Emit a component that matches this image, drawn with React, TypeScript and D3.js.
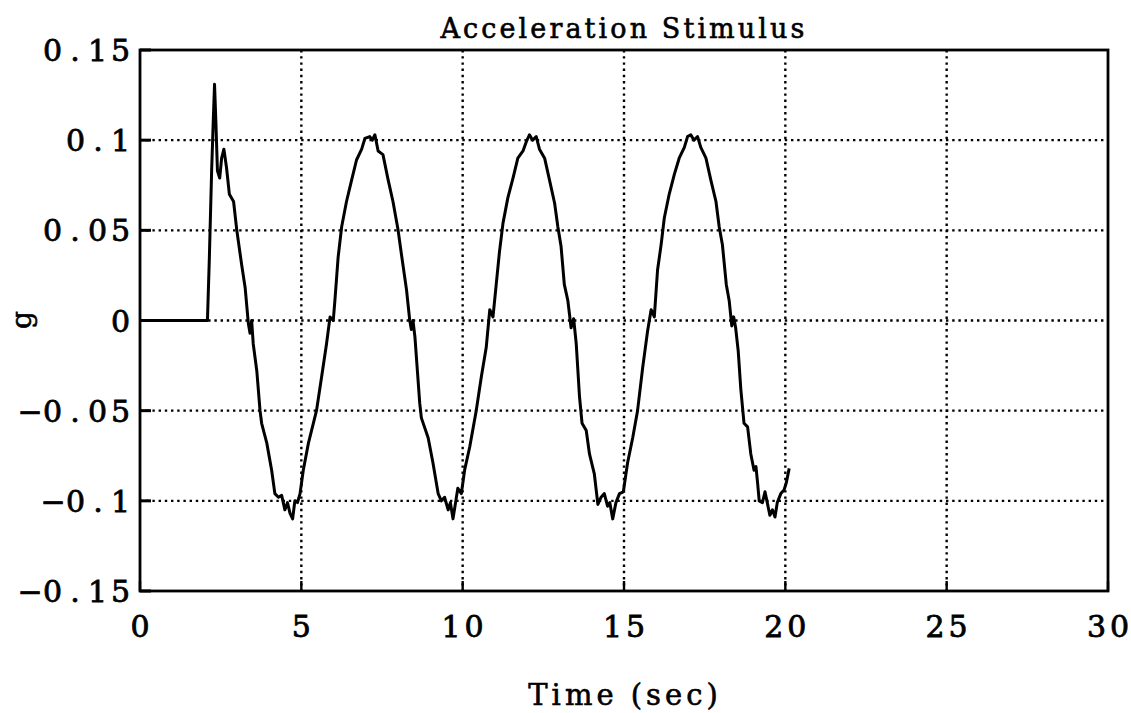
import React from "react";
import * as d3 from "d3";

// ---- data ----
const TIME: number[] = [
  0, 2.09, 2.15, 2.22, 2.26, 2.31, 2.35, 2.40, 2.47, 2.53, 2.60, 2.68, 2.77, 2.90,
  3.00, 3.15, 3.26, 3.36, 3.41, 3.46, 3.51, 3.62, 3.72, 3.77, 3.93, 4.08, 4.18, 4.29,
  4.39, 4.49, 4.57, 4.65, 4.73, 4.80, 4.88, 4.96, 5.06, 5.22, 5.47, 5.63, 5.78, 5.89,
  5.99, 6.04, 6.14, 6.25, 6.40, 6.56, 6.71, 6.87, 6.97, 7.12, 7.20, 7.28, 7.38, 7.53,
  7.69, 7.84, 8.00, 8.10, 8.26, 8.36, 8.41, 8.46, 8.52, 8.67, 8.72, 8.93, 9.08, 9.24,
  9.34, 9.44, 9.55, 9.62, 9.70, 9.78, 9.85, 9.96, 10.06, 10.22, 10.42, 10.58, 10.73,
  10.84, 10.94, 11.04, 11.14, 11.25, 11.40, 11.56, 11.71, 11.87, 11.97, 12.07, 12.17,
  12.28, 12.38, 12.54, 12.69, 12.85, 12.95, 13.05, 13.15, 13.26, 13.36, 13.44, 13.52,
  13.62, 13.70, 13.83, 13.93, 14.08, 14.19, 14.29, 14.39, 14.49, 14.56, 14.65, 14.75,
  14.86, 14.98, 15.11, 15.27, 15.42, 15.58, 15.73, 15.84, 15.94, 16.04, 16.15, 16.25,
  16.40, 16.56, 16.71, 16.87, 16.97, 17.07, 17.17, 17.28, 17.38, 17.54, 17.69, 17.85,
  17.95, 18.05, 18.17, 18.26, 18.34, 18.40, 18.46, 18.54, 18.62, 18.72, 18.83, 18.93,
  19.03, 19.09, 19.14, 19.19, 19.29, 19.37, 19.44, 19.52, 19.60, 19.68, 19.75, 19.86,
  19.96, 20.03, 20.12,
];
const ACCEL: number[] = [
  0, 0, 0.035, 0.083, 0.105, 0.131, 0.111, 0.083, 0.079, 0.090, 0.095, 0.085, 0.070, 0.066,
  0.050, 0.031, 0.018, -0.002, -0.007, 0.000, -0.013, -0.028, -0.050, -0.057, -0.068, -0.083, -0.096, -0.098,
  -0.097, -0.105, -0.101, -0.107, -0.110, -0.100, -0.101, -0.096, -0.083, -0.068, -0.050, -0.031, -0.013, 0.002,
  0.000, 0.011, 0.035, 0.052, 0.066, 0.078, 0.089, 0.095, 0.101, 0.102, 0.100, 0.103, 0.094, 0.092,
  0.078, 0.066, 0.050, 0.037, 0.017, 0.000, -0.005, 0.000, -0.009, -0.046, -0.054, -0.065, -0.079, -0.096,
  -0.100, -0.098, -0.105, -0.101, -0.110, -0.101, -0.093, -0.096, -0.083, -0.070, -0.050, -0.031, -0.015,
  0.006, 0.002, 0.020, 0.038, 0.054, 0.068, 0.079, 0.090, 0.094, 0.099, 0.103, 0.100,
  0.102, 0.095, 0.090, 0.078, 0.065, 0.052, 0.041, 0.020, 0.011, -0.004, 0.001, -0.013,
  -0.042, -0.057, -0.061, -0.074, -0.085, -0.102, -0.098, -0.096, -0.103, -0.101, -0.110, -0.101,
  -0.096, -0.095, -0.079, -0.065, -0.050, -0.026, -0.006, 0.006, 0.002, 0.028, 0.042, 0.057,
  0.070, 0.081, 0.090, 0.096, 0.102, 0.103, 0.100, 0.102, 0.096, 0.090, 0.078, 0.066,
  0.052, 0.042, 0.020, 0.011, -0.003, 0.002, -0.004, -0.017, -0.038, -0.057, -0.059, -0.074,
  -0.083, -0.081, -0.090, -0.100, -0.101, -0.095, -0.101, -0.108, -0.105, -0.109, -0.101, -0.096,
  -0.094, -0.090, -0.082,
];
const X_TICKS: number[] = [0, 5, 10, 15, 20, 25, 30];
const Y_TICKS: number[] = [-0.15, -0.1, -0.05, 0, 0.05, 0.1, 0.15];
const X_TICK_LABELS: string[] = ["0", "5", "10", "15", "20", "25", "30"];
const Y_TICK_LABELS: string[] = ["\u22120.15", "\u22120.1", "\u22120.05", "0", "0.05", "0.1", "0.15"];
const TITLE = "Acceleration Stimulus";
const X_LABEL = "Time (sec)";
const Y_LABEL = "g";

// ---- layout ----
const W = 1131;
const H = 713;
const M = { left: 140, right: 1108, top: 50, bottom: 591 };
const FONT = "'DejaVu Serif', serif";

type CellText = {
  x: number;
  y: number;
  text: string;
  size: number;
  adv: (c: string) => number;
  anchor: "start" | "middle" | "end";
};

// tick labels: characters placed in fixed cells, like the plotter font of the original
function Mono({ x, y, text, size, adv, anchor }: CellText) {
  const chars = Array.from(text);
  const widths = chars.map(adv);
  const total = widths.reduce((a, b) => a + b, 0);
  let start = anchor === "start" ? x : anchor === "middle" ? x - total / 2 : x - total;
  const xs: number[] = [];
  chars.forEach((c, i) => {
    xs.push(start + widths[i] / 2);
    start += widths[i];
  });
  return (
    <text
      y={y}
      fontFamily={FONT}
      fontSize={size}
      textAnchor="middle"
      fill="#000"
      stroke="#000"
      strokeWidth={0.8}
    >
      {chars.map((c, i) => (
        <tspan key={i} x={xs[i]} y={y}>
          {c}
        </tspan>
      ))}
    </text>
  );
}

const tickAdv = (c: string) => (c === "." ? 22 : c === "\u2212" ? 22 : 23);

export default function App() {
  const x = d3.scaleLinear().domain([0, 30]).range([M.left, M.right]);
  const y = d3.scaleLinear().domain([-0.15, 0.15]).range([M.bottom, M.top]);
  const pts: [number, number][] = TIME.map((t, i) => [t, ACCEL[i]]);
  const line = d3
    .line<[number, number]>()
    .x((d) => x(d[0]))
    .y((d) => y(d[1]));

  return (
    <svg
      width={W}
      height={H}
      style={{ position: "absolute", left: 0, top: 0, background: "#fff" }}
    >
      <rect x={0} y={0} width={W} height={H} fill="#fff" />
      {/* grid */}
      {X_TICKS.slice(1, -1).map((t) => (
        <line
          key={"gx" + t}
          x1={x(t)}
          x2={x(t)}
          y1={M.top}
          y2={M.bottom}
          stroke="#000"
          strokeWidth={2.4}
          strokeDasharray="2.4 3.8"
        />
      ))}
      {Y_TICKS.slice(1, -1).map((v) => (
        <line
          key={"gy" + v}
          x1={M.left}
          x2={M.right}
          y1={y(v)}
          y2={y(v)}
          stroke="#000"
          strokeWidth={2.4}
          strokeDasharray="2.4 3.8"
        />
      ))}
      {/* ticks */}
      {X_TICKS.map((t) => (
        <line key={"tx" + t} x1={x(t)} x2={x(t)} y1={M.bottom} y2={M.bottom - 10} stroke="#000" strokeWidth={2.4} />
      ))}
      {Y_TICKS.map((v) => (
        <line key={"ty" + v} x1={M.left} x2={M.left + 11} y1={y(v)} y2={y(v)} stroke="#000" strokeWidth={3} />
      ))}
      {/* data */}
      <path d={line(pts) || ""} fill="none" stroke="#000" strokeWidth={3} strokeLinejoin="round" />
      {/* frame */}
      <rect
        x={M.left}
        y={M.top}
        width={M.right - M.left}
        height={M.bottom - M.top}
        fill="none"
        stroke="#000"
        strokeWidth={2.8}
      />
      {/* tick labels */}
      {Y_TICKS.map((v, i) => (
        <Mono key={"ly" + v} x={132} y={y(v) + 11} text={Y_TICK_LABELS[i]} size={30} adv={tickAdv} anchor="end" />
      ))}
      {X_TICKS.map((t, i) => (
        <Mono key={"lx" + t} x={x(t)} y={637} text={X_TICK_LABELS[i]} size={30} adv={tickAdv} anchor="middle" />
      ))}
      {/* title and labels */}
      <text
        x={(M.left + M.right) / 2}
        y={38}
        fontFamily={FONT}
        fontSize={27}
        letterSpacing={3.1}
        textAnchor="middle"
        fill="#000"
        stroke="#000"
        strokeWidth={0.6}
      >
        {TITLE}
      </text>
      <text
        x={625}
        y={705}
        fontFamily={FONT}
        fontSize={29}
        letterSpacing={4}
        textAnchor="middle"
        fill="#000"
        stroke="#000"
        strokeWidth={0.6}
      >
        {X_LABEL}
      </text>
      <text
        transform="translate(31,320) rotate(-90)"
        fontFamily={FONT}
        fontSize={28}
        textAnchor="middle"
        fill="#000"
        stroke="#000"
        strokeWidth={0.6}
      >
        {Y_LABEL}
      </text>
    </svg>
  );
}
